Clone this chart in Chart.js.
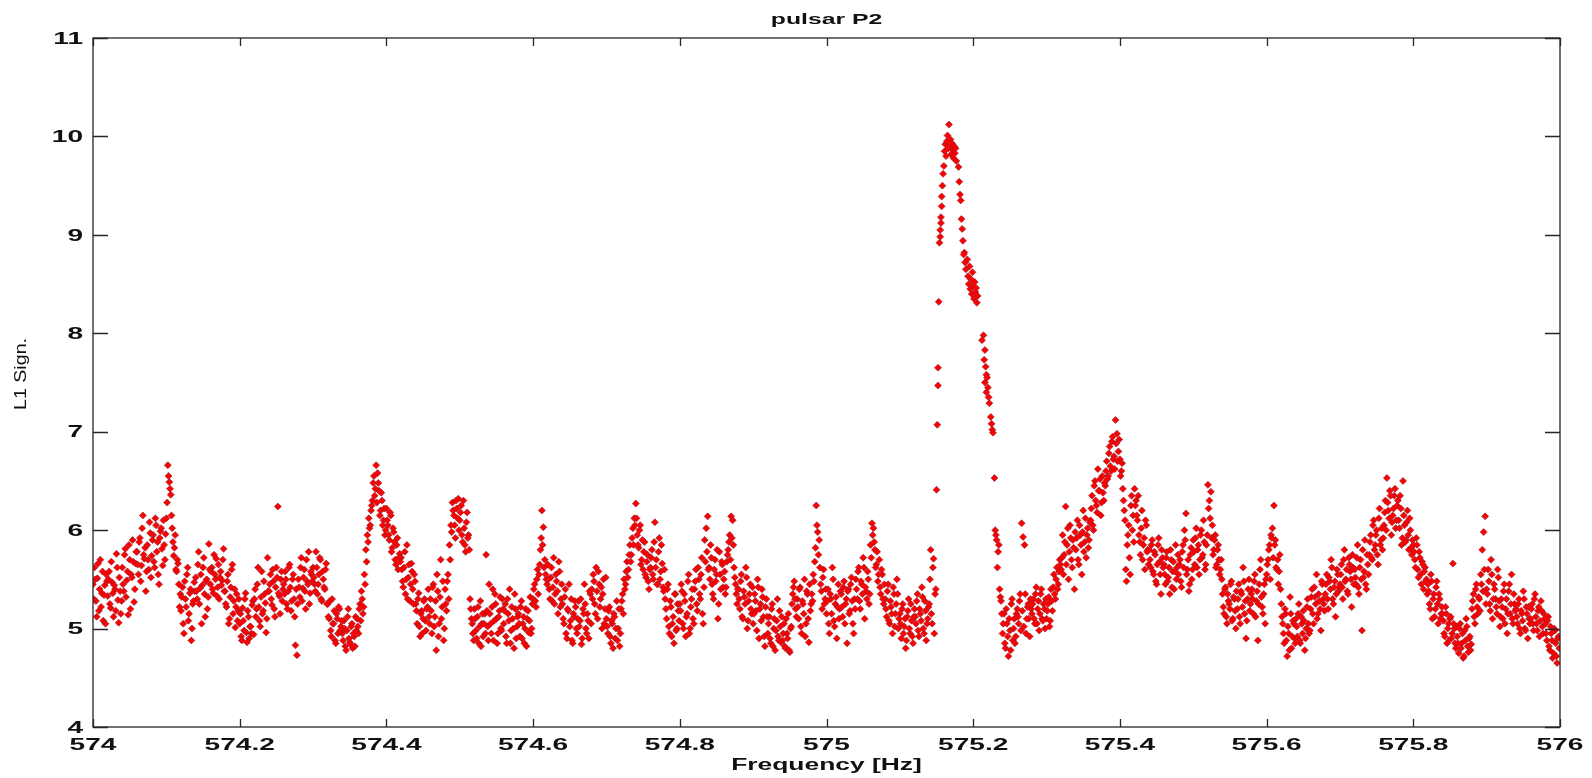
<!DOCTYPE html>
<html>
<head>
<meta charset="utf-8">
<title>pulsar P2</title>
<script src="https://cdn.jsdelivr.net/npm/chart.js@4.4.1/dist/chart.umd.min.js"></script>
<style>
  html, body { margin:0; padding:0; background:#fff; }
  #wrap { width:1592px; height:778px; position:relative; }
</style>
</head>
<body>
<div id="wrap"><canvas id="chart"></canvas></div>
<script>
const xTicks = [574, 574.2, 574.4, 574.6, 574.8, 575, 575.2, 575.4, 575.6, 575.8, 576];
const xTickLabels = ["574","574.2","574.4","574.6","574.8","575","575.2","575.4","575.6","575.8","576"];
const yTicks = [4, 5, 6, 7, 8, 9, 10, 11];

// L1 significance on the frequency grid, two templates per 0.002 Hz step
// (the "b" lists sit 0.001 Hz after the plain ones)
const FREQ_STEP = 0.002;
const sig574_0 = [
  5.45,5.62,5.28,5.51,5.18,5.70,5.36,5.08,5.44,5.55,
  5.33,5.58,5.21,5.47,5.12,5.40,5.76,5.29,5.52,5.15,
  5.62,5.38,5.81,5.49,5.14,5.70,5.55,5.90,5.27,5.66,
  5.78,5.55,5.92,5.64,6.15,5.71,5.38,5.85,5.60,5.97,
  5.74,5.95,5.62,6.05,5.88,5.45,5.99,5.81,6.10,5.70,
  6.12,6.66,6.49,6.36,6.02,5.74,5.95,5.58,5.66,5.22,
  5.18,5.42,4.95,5.30,5.55,5.08,5.36,4.88,5.25,5.47,
  5.52,5.30,5.78,5.41,5.05,5.62,5.35,5.48,5.20,5.86,
  5.45,5.62,5.36,5.55,5.71,5.42,5.30,5.58,5.49,5.81,
  5.38,5.22,5.55,5.10,5.42,5.65,5.28,5.01,5.35,5.18
];
const sig574_0b = [
  5.30,5.50,5.12,5.66,5.40,5.22,5.58,5.34,5.05,5.48,
  5.50,5.25,5.68,5.36,5.44,5.18,5.62,5.06,5.38,5.28,
  5.45,5.75,5.32,5.58,5.85,5.20,5.52,5.68,5.40,5.78,
  5.65,5.88,5.48,6.02,5.75,5.82,5.58,5.70,6.08,5.52,
  5.90,5.68,6.12,5.78,5.55,5.92,6.02,5.64,5.85,5.96,
  6.28,6.55,6.42,6.15,5.88,5.82,5.60,5.70,5.45,5.35,
  5.32,5.05,5.48,5.22,5.62,5.15,5.40,5.00,5.28,5.38,
  5.38,5.65,5.25,5.55,5.44,5.72,5.12,5.50,5.32,5.60,
  5.58,5.40,5.75,5.50,5.33,5.65,5.52,5.44,5.70,5.38,
  5.25,5.48,5.05,5.32,5.60,5.15,5.40,5.22,5.08,5.30
];
const sig574_2 = [
  5.05,4.92,5.21,4.98,5.36,4.86,5.12,5.02,4.95,5.28,
  5.30,5.12,5.45,5.22,5.02,5.58,5.18,5.35,4.96,5.72,
  5.38,5.55,5.24,5.48,5.12,5.62,6.24,5.33,5.50,5.28,
  5.45,5.58,5.25,5.38,5.65,5.18,5.50,5.30,4.83,4.73,
  5.50,5.32,5.72,5.41,5.60,5.20,5.48,5.78,5.36,5.55,
  5.62,5.45,5.78,5.35,5.55,5.70,5.28,5.50,5.40,5.66,
  5.25,5.10,4.98,5.30,5.05,4.88,5.15,4.95,5.20,5.02,
  4.95,5.08,4.82,4.98,5.20,4.86,5.02,4.80,4.92,5.12,
  5.10,4.95,5.25,5.38,5.15,5.55,5.80,5.95,6.12,6.05,
  6.25,6.48,6.35,6.66,6.58,6.40,6.20,6.30,6.10,5.95
];
const sig574_2b = [
  5.15,4.88,5.08,5.30,4.96,5.18,4.90,5.02,5.24,4.94,
  5.40,5.20,5.62,5.08,5.32,5.15,5.48,5.26,5.10,5.38,
  5.45,5.30,5.60,5.20,5.42,5.52,5.36,5.15,5.58,5.40,
  5.35,5.50,5.20,5.62,5.42,5.28,5.55,5.12,5.40,5.25,
  5.42,5.62,5.28,5.52,5.38,5.70,5.45,5.25,5.58,5.48,
  5.52,5.38,5.62,5.45,5.72,5.30,5.58,5.42,5.60,5.25,
  5.12,5.28,4.92,5.05,5.18,4.85,5.10,5.22,4.98,5.08,
  4.88,5.00,4.78,5.12,4.90,4.84,5.05,4.95,4.82,4.98,
  5.02,5.20,5.08,5.30,5.22,5.45,5.68,5.88,6.02,6.20,
  6.30,6.55,6.42,6.28,6.48,6.15,6.38,6.05,6.22,6.00
];
const sig574_4 = [
  6.22,6.05,5.90,6.15,5.82,5.98,5.70,5.85,5.60,5.76,
  5.72,5.48,5.62,5.35,5.85,5.52,5.28,5.66,5.40,5.55,
  5.25,5.05,5.36,4.92,5.18,5.10,5.30,4.98,5.22,5.12,
  5.30,4.95,5.45,5.12,4.78,5.38,5.05,5.70,5.22,4.88,
  5.40,5.18,5.55,5.85,6.05,6.28,6.15,5.92,6.22,6.32,
  6.10,6.25,5.88,6.02,5.78,6.18,5.95,5.30,5.10,4.95,
  5.20,4.98,5.12,4.85,5.28,5.05,4.92,5.15,5.75,5.02,
  5.45,5.05,5.22,4.88,5.35,5.10,4.95,5.18,5.00,5.30,
  5.05,5.25,4.85,5.15,5.40,4.98,5.10,4.80,5.20,5.02,
  5.15,4.92,5.28,5.05,4.85,5.20,5.10,4.96,5.32,5.00
];
const sig574_4b = [
  6.10,5.95,6.18,5.78,6.02,5.88,5.65,5.92,5.72,5.68,
  5.60,5.42,5.78,5.50,5.30,5.65,5.45,5.58,5.25,5.48,
  5.18,5.30,5.02,5.15,4.95,5.28,5.08,5.20,5.40,5.05,
  5.18,5.42,5.02,5.28,5.55,4.92,5.32,5.10,5.48,5.00,
  5.25,5.48,5.30,5.70,5.98,6.20,6.05,6.30,6.12,6.00,
  6.18,5.95,6.30,5.85,6.08,5.92,5.80,5.20,5.05,4.88,
  5.10,4.90,5.22,5.02,4.82,5.15,5.05,4.95,5.18,4.88,
  5.15,4.95,5.40,5.08,5.25,4.85,5.12,5.32,4.98,5.20,
  5.18,4.92,5.30,5.08,4.85,5.22,5.00,5.35,4.90,5.12,
  5.05,5.22,4.90,5.12,5.00,4.82,5.18,5.08,4.95,5.25
];
const sig574_6 = [
  5.30,5.45,5.22,5.60,5.55,5.80,6.20,6.03,5.70,5.50,
  5.65,5.40,5.52,5.28,5.72,5.35,5.48,5.15,5.58,5.30,
  5.25,5.05,5.40,4.90,5.18,5.02,5.30,4.85,5.12,5.22,
  4.95,5.28,5.08,4.84,5.20,5.45,5.00,5.15,4.90,5.35,
  5.40,5.55,5.25,5.62,5.10,5.45,5.30,5.00,5.50,5.20,
  5.10,4.95,5.22,4.85,5.05,5.15,4.90,5.28,5.00,4.82,
  5.20,5.35,5.50,5.45,5.68,5.60,5.85,5.75,6.02,6.12,
  6.27,5.95,5.82,6.05,5.70,5.60,5.88,5.52,5.75,5.40,
  5.62,5.80,5.50,6.08,5.70,5.45,5.92,5.58,5.66,5.38,
  5.30,5.10,5.45,4.95,5.22,5.05,4.85,5.35,5.00,5.18
];
const sig574_6b = [
  5.40,5.28,5.50,5.35,5.65,5.92,5.85,5.62,5.55,5.45,
  5.50,5.30,5.62,5.42,5.25,5.55,5.38,5.68,5.22,5.45,
  5.10,5.32,4.95,5.20,5.45,5.08,4.88,5.15,5.28,5.00,
  5.10,5.02,5.30,4.90,5.15,5.25,4.95,5.08,5.38,5.05,
  5.30,5.48,5.15,5.38,5.58,5.22,5.42,5.35,5.05,5.52,
  5.02,5.18,4.92,5.08,4.80,5.12,5.00,4.88,5.20,4.95,
  5.28,5.15,5.40,5.58,5.52,5.75,5.68,5.92,5.85,6.05,
  6.12,5.85,6.00,5.65,5.90,5.78,5.55,5.68,5.48,5.60,
  5.72,5.55,5.88,5.62,5.45,5.78,5.50,5.85,5.42,5.60,
  5.20,5.40,5.02,5.28,4.92,5.12,5.35,4.98,5.25,5.08
];
const sig574_8 = [
  5.25,5.45,5.05,5.35,4.92,5.15,5.55,5.00,5.30,5.10,
  5.40,5.60,5.18,5.50,5.30,5.72,5.05,5.90,6.02,6.14,
  5.62,5.85,5.45,5.30,5.70,5.55,5.10,5.78,5.40,5.65,
  5.50,5.35,5.68,5.80,5.95,6.14,6.10,5.62,5.45,5.25,
  5.40,5.20,5.55,5.10,5.32,5.62,5.00,5.28,5.45,5.15,
  5.05,5.35,5.18,5.50,4.90,5.25,5.40,5.12,4.82,5.30,
  4.95,5.12,4.85,5.25,5.00,4.78,5.08,4.92,5.18,4.86,
  4.88,5.05,4.80,4.95,5.15,4.76,5.02,5.35,5.48,5.20,
  5.30,5.10,5.42,4.95,5.25,5.50,5.05,5.35,4.86,5.18,
  5.35,5.55,5.68,6.25,5.98,5.90,5.45,5.20,5.60,5.30
];
const sig574_8b = [
  5.18,5.38,5.00,5.28,5.12,5.48,4.95,5.22,5.40,5.05,
  5.48,5.25,5.62,5.35,5.55,5.15,5.42,5.68,5.78,5.60,
  5.50,5.72,5.35,5.60,5.48,5.80,5.25,5.55,5.68,5.42,
  5.58,5.42,5.75,5.88,5.70,5.92,5.85,5.52,5.35,5.40,
  5.30,5.48,5.12,5.38,5.25,5.52,5.08,5.35,5.20,5.42,
  5.15,5.28,4.98,5.42,5.20,5.08,5.32,4.92,5.22,5.12,
  5.05,4.90,5.20,4.82,5.10,4.98,5.30,4.88,5.02,5.12,
  4.95,4.82,5.10,4.90,4.78,5.00,5.25,5.42,5.30,5.12,
  5.22,5.40,5.02,5.28,5.15,4.92,5.38,5.10,5.45,5.25,
  5.28,5.48,5.82,6.05,5.75,5.62,5.38,5.52,5.25,5.40
];
const sig575_0 = [
  5.15,5.40,4.95,5.30,5.62,5.08,5.25,4.90,5.45,5.20,
  5.35,5.12,5.48,5.25,4.85,5.40,5.18,5.52,5.05,5.30,
  5.50,5.30,5.62,5.20,5.45,5.72,5.10,5.38,5.58,5.25,
  5.85,6.07,6.02,5.80,5.65,5.48,5.70,5.35,5.55,5.25,
  5.30,5.12,5.45,5.05,5.22,4.95,5.35,5.15,5.50,5.00,
  5.15,4.90,5.25,5.02,4.80,5.12,5.30,4.95,5.08,4.85,
  5.20,5.05,5.35,4.92,5.15,5.42,5.00,5.28,4.88,5.10,
  5.25,5.80,5.05,5.71,5.35
];
const sig575_0b = [
  5.28,5.05,5.35,5.15,5.50,5.02,5.32,5.22,5.10,5.38,
  5.22,5.42,5.05,5.30,5.38,5.15,5.45,5.28,4.95,5.20,
  5.40,5.58,5.28,5.48,5.35,5.62,5.42,5.30,5.50,5.35,
  5.72,5.95,5.88,5.62,5.78,5.55,5.42,5.60,5.30,5.45,
  5.20,5.38,5.08,5.28,5.15,5.42,5.02,5.25,5.35,5.10,
  5.05,5.20,4.95,5.10,4.88,5.18,5.00,5.25,4.92,5.12,
  5.12,5.28,4.98,5.20,5.08,5.32,4.95,5.18,5.05,5.22,
  5.50,5.15,5.62,4.95,5.40
];
const sig575_23 = [
  6.00,5.90,5.78,5.40,5.28,
  4.95,5.15,4.80,5.05,4.72,4.98,5.25,4.88,5.10,4.92,
  5.20,5.05,5.35,6.07,5.93,5.85,4.95,5.22,5.10,5.30,
  5.15,5.30,5.05,5.42,5.20,4.98,5.35,5.10,5.25,5.00,
  5.10,5.25,5.02,5.40,5.18,5.55,5.30,5.62,5.45,5.70,
  5.60,5.95,5.75,6.24,5.85,5.50,6.05,5.70,5.90,5.40,
  5.80,6.10,5.65,5.95,5.55,6.20,5.88,5.72,6.02,5.90,
  6.10,6.35,6.00,6.50,6.25,6.62,6.40,6.15,6.55,6.30,
  6.45,6.70,6.55,6.85,6.60,6.95,6.75,7.12,6.98,6.80
];
const sig575_23b = [
  5.95,5.62,5.85,5.32,5.15,
  5.05,4.85,5.20,4.92,5.10,4.78,5.30,5.00,4.85,5.15,
  5.12,5.28,4.98,5.18,5.02,5.35,5.10,5.25,4.92,5.20,
  5.25,5.10,5.35,5.05,5.28,5.15,5.40,5.08,5.20,5.30,
  5.18,5.32,5.08,5.28,5.42,5.35,5.50,5.40,5.58,5.65,
  5.72,5.55,5.88,5.65,6.02,5.78,5.92,5.62,5.82,5.98,
  5.92,5.70,6.05,5.85,5.98,5.78,6.12,5.95,5.82,6.08,
  6.22,6.05,6.45,6.30,6.18,6.40,6.52,6.28,6.38,6.48,
  6.60,6.52,6.78,6.65,6.90,6.72,6.62,6.88,6.70,6.92
];
const sig575_4 = [
  6.72,6.60,6.42,6.20,5.60,5.85,6.05,5.55,6.35,6.15,
  6.42,6.30,6.10,5.95,5.75,6.20,5.85,5.60,6.05,5.80,
  5.80,5.62,5.90,5.55,5.75,5.45,5.85,5.68,5.35,5.72,
  5.65,5.45,5.78,5.52,5.35,5.70,5.58,5.40,5.85,5.62,
  5.55,5.70,5.42,5.85,6.00,6.17,5.60,5.38,5.75,5.50,
  5.90,5.65,6.02,5.80,5.55,5.95,5.72,6.10,5.60,5.85,
  6.46,6.30,6.39,6.05,5.80,5.95,5.65,5.85,5.55,5.70,
  5.35,5.15,5.42,5.05,5.28,5.20,5.48,5.10,5.30,5.00,
  5.20,5.45,5.05,5.35,5.62,5.15,4.90,5.30,5.50,5.25,
  5.40,5.15,5.55,5.28,4.88,5.45,5.70,5.22,5.35,5.05
];
const sig575_4b = [
  6.55,6.68,6.30,6.10,5.48,5.95,5.72,6.25,6.00,5.88,
  6.25,6.15,6.35,5.88,6.02,5.70,5.92,6.10,5.78,5.65,
  5.70,5.85,5.58,5.78,5.48,5.65,5.92,5.55,5.80,5.62,
  5.55,5.72,5.48,5.62,5.80,5.42,5.68,5.58,5.50,5.75,
  5.65,5.48,5.78,5.62,5.90,5.55,5.70,5.45,5.82,5.60,
  5.78,5.92,5.62,5.85,5.70,6.00,5.75,5.88,5.65,5.95,
  6.22,6.12,5.92,5.75,5.90,5.62,5.80,5.70,5.60,5.50,
  5.22,5.40,5.12,5.35,5.25,5.45,5.08,5.32,5.18,5.38,
  5.30,5.12,5.38,5.22,5.48,5.28,5.08,5.40,5.18,5.35,
  5.30,5.48,5.12,5.38,5.25,5.60,5.32,5.15,5.45,5.50
];
const sig575_6 = [
  5.55,5.70,5.85,5.95,6.02,6.25,5.90,5.60,5.45,5.75,
  5.25,5.05,4.85,5.15,4.72,4.95,5.32,4.80,5.08,4.90,
  5.10,4.92,5.25,4.85,5.05,5.18,4.78,5.00,5.30,4.95,
  5.20,5.40,5.05,5.32,5.55,5.15,5.28,4.98,5.45,5.25,
  5.35,5.55,5.20,5.48,5.70,5.30,5.42,5.12,5.60,5.38,
  5.45,5.65,5.30,5.80,5.50,5.38,5.72,5.58,5.22,5.62,
  5.60,5.45,5.85,5.35,5.70,4.98,5.52,5.90,5.40,5.65,
  5.75,5.95,5.70,6.10,5.85,6.00,5.65,6.22,5.90,5.80,
  6.05,6.30,6.53,6.20,6.40,5.95,6.15,6.35,6.02,6.25,
  6.10,6.35,5.85,6.50,6.05,5.90,6.20,5.80,6.00,5.75
];
const sig575_6b = [
  5.65,5.80,5.50,5.92,5.72,5.85,5.62,5.70,5.58,5.40,
  5.12,4.95,5.20,4.88,5.02,4.78,5.15,4.92,5.05,4.85,
  5.02,5.15,4.88,5.12,4.95,5.08,4.90,5.22,5.05,4.98,
  5.32,5.15,5.42,5.25,5.10,5.35,5.20,5.48,5.30,5.18,
  5.45,5.30,5.52,5.40,5.62,5.25,5.48,5.35,5.55,5.42,
  5.55,5.42,5.70,5.48,5.60,5.35,5.65,5.50,5.75,5.45,
  5.52,5.72,5.42,5.62,5.50,5.80,5.58,5.45,5.75,5.55,
  5.88,5.72,6.05,5.80,5.95,5.75,6.12,5.85,6.02,5.92,
  6.18,6.00,6.28,6.12,6.35,6.08,6.22,6.42,6.10,6.30,
  6.02,6.22,5.92,6.15,5.88,6.08,5.95,6.12,5.82,5.90
];
const sig575_8 = [
  5.85,5.70,5.92,5.60,5.78,5.55,5.68,5.40,5.62,5.50,
  5.45,5.25,5.55,5.10,5.35,5.20,5.48,5.05,5.30,5.15,
  5.15,4.95,5.22,4.85,5.05,5.10,4.90,5.66,5.00,4.80,
  4.92,4.75,5.05,4.85,4.70,4.98,5.10,4.82,4.90,4.78,
  5.20,5.35,5.05,5.45,5.15,5.30,5.55,5.80,5.98,6.14,
  5.40,5.60,5.25,5.70,5.10,5.45,5.30,5.15,5.52,5.02,
  5.30,5.10,5.45,5.20,4.95,5.38,5.15,5.55,5.05,5.25,
  5.20,5.05,5.30,4.95,5.15,5.38,5.00,5.22,4.90,5.10,
  5.10,5.25,4.98,5.35,5.05,5.18,4.92,5.28,5.02,5.15,
  5.05,4.88,5.12,4.78,4.95,4.70,5.00,4.85,4.65,4.92
];
const sig575_8b = [
  5.78,5.62,5.85,5.52,5.72,5.45,5.65,5.58,5.48,5.35,
  5.38,5.20,5.48,5.30,5.12,5.42,5.25,5.35,5.10,5.22,
  5.08,4.92,5.15,5.00,4.88,5.12,4.95,5.05,4.85,5.02,
  4.85,5.00,4.80,4.95,4.72,4.88,5.02,4.76,4.92,4.84,
  5.28,5.12,5.40,5.22,5.32,5.18,5.45,5.38,5.60,5.25,
  5.35,5.48,5.18,5.55,5.30,5.40,5.22,5.60,5.28,5.12,
  5.22,5.38,5.05,5.30,5.15,5.45,5.25,5.10,5.35,5.18,
  5.12,5.25,5.00,5.18,5.08,5.30,4.98,5.15,5.22,5.05,
  5.20,5.05,5.30,5.12,4.98,5.22,5.08,5.18,4.95,5.10,
  4.95,5.08,4.82,5.02,4.88,4.75,4.98,4.72,4.90,4.80
];

// start frequency of each list
const blocks = [
  [574.0, sig574_0], [574.001, sig574_0b],
  [574.2, sig574_2], [574.201, sig574_2b],
  [574.4, sig574_4], [574.401, sig574_4b],
  [574.6, sig574_6], [574.601, sig574_6b],
  [574.8, sig574_8], [574.801, sig574_8b],
  [575.0, sig575_0], [575.001, sig575_0b],
  [575.23, sig575_23], [575.231, sig575_23b],
  [575.4, sig575_4], [575.401, sig575_4b],
  [575.6, sig575_6], [575.601, sig575_6b],
  [575.8, sig575_8], [575.801, sig575_8b]
];

// the line around 575.17 Hz, several templates per frequency
const peakFreq = [
  575.150,575.151,575.152,575.152,575.153,575.154,575.155,575.155,575.156,575.156,575.157,575.157,
  575.158,575.159,575.160,575.161,575.162,575.163,575.164,575.165,575.166,575.167,
  575.168,575.169,575.170,575.171,575.172,575.173,575.174,575.175,575.176,575.177,
  575.180,575.181,575.182,575.183,575.184,575.185,575.186,575.188,
  575.187,575.189,575.190,575.192,575.193,575.194,575.195,575.196,575.197,575.198,
  575.199,575.200,575.201,575.202,575.203,575.204,575.205,575.206,
  575.212,575.214,575.215,575.216,575.216,575.217,575.218,575.218,575.219,575.220,
  575.221,575.222,575.224,575.225,575.226,575.227,575.229
];
const peakSig = [
  6.41,7.07,7.47,7.65,8.32,8.92,8.98,9.05,9.12,9.18,9.29,9.39,
  9.50,9.62,9.70,9.85,9.92,9.80,9.95,10.01,9.88,10.12,
  9.90,9.97,9.82,9.93,9.86,9.78,9.90,9.83,9.88,9.75,
  9.69,9.54,9.41,9.35,9.16,9.06,8.94,8.82,
  8.80,8.72,8.65,8.75,8.58,8.50,8.68,8.45,8.55,8.40,
  8.62,8.48,8.35,8.52,8.42,8.46,8.31,8.38,
  7.93,7.98,7.73,7.83,7.50,7.66,7.58,7.40,7.55,7.45,
  7.35,7.29,7.15,7.08,7.02,6.99,6.53
];

const gridPoints = [];
blocks.forEach(([f0, vals]) => {
  vals.forEach((v, i) => gridPoints.push({ x: +(f0 + i * FREQ_STEP).toFixed(3), y: v }));
});
const peakPoints = peakFreq.map((f, i) => ({ x: f, y: peakSig[i] }));

// text in this figure is stretched sideways
const WIDE = 1.65;
function wideText(ctx, text, x, y, align, sx){
  ctx.save();
  ctx.translate(x, y);
  ctx.scale(sx, 1);
  ctx.textAlign = align;
  ctx.fillText(text, 0, 0);
  ctx.restore();
}

// box axes with inward ticks, labels and titles
const frame = {
  id: "frame",
  afterDatasetsDraw(chart){
    const { ctx, chartArea: a, scales: { x, y } } = chart;
    ctx.save();
    ctx.strokeStyle = "#262626";
    ctx.lineWidth = 1.3;
    ctx.strokeRect(a.left, a.top, a.right - a.left, a.bottom - a.top);
    ctx.beginPath();
    xTicks.forEach(v => {
      const px = Math.round(x.getPixelForValue(v)) + 0.5;
      ctx.moveTo(px, a.bottom); ctx.lineTo(px, a.bottom - 8);
      ctx.moveTo(px, a.top); ctx.lineTo(px, a.top + 8);
    });
    yTicks.forEach(v => {
      const py = Math.round(y.getPixelForValue(v)) + 0.5;
      ctx.moveTo(a.left, py); ctx.lineTo(a.left + 15, py);
      ctx.moveTo(a.right, py); ctx.lineTo(a.right - 15, py);
    });
    ctx.stroke();

    ctx.fillStyle = "#111";
    ctx.font = "bold 17px 'Liberation Sans', Arial, sans-serif";
    ctx.textBaseline = "alphabetic";
    xTicks.forEach((v, i) => wideText(ctx, xTickLabels[i], x.getPixelForValue(v), a.bottom + 23, "center", WIDE));
    ctx.textBaseline = "middle";
    yTicks.forEach(v => wideText(ctx, String(v), a.left - 10, y.getPixelForValue(v) + 1, "right", WIDE));

    ctx.textBaseline = "alphabetic";
    ctx.font = "bold 15px 'Liberation Sans', Arial, sans-serif";
    wideText(ctx, "pulsar P2", (a.left + a.right) / 2, 24, "center", WIDE);
    ctx.font = "bold 16px 'Liberation Sans', Arial, sans-serif";
    wideText(ctx, "Frequency [Hz]", (a.left + a.right) / 2, 770, "center", WIDE);

    // y title, rotated
    ctx.font = "17px 'Liberation Sans', Arial, sans-serif";
    const label = "L1 Sign.";
    const stretch = 72 / ctx.measureText(label).width;
    ctx.translate(21, 374);
    ctx.rotate(-Math.PI / 2);
    ctx.scale(stretch, 1);
    ctx.textAlign = "center";
    ctx.textBaseline = "middle";
    ctx.fillText(label, 0, 0);
    ctx.restore();
  }
};

const markerStyle = {
  pointStyle: "rectRot",
  pointRadius: 3.5,
  pointBackgroundColor: "#ff0000",
  pointBorderColor: "#8a2233",
  pointBorderWidth: 0.6,
  showLine: false
};

new Chart(document.querySelector("#chart"), {
  type: "scatter",
  data: {
    datasets: [
      { label: "L1", data: gridPoints, ...markerStyle },
      { label: "L1 line", data: peakPoints, ...markerStyle }
    ]
  },
  options: {
    responsive: true,
    maintainAspectRatio: false,
    animation: false,
    layout: { padding: { left: 93, top: 38, right: 32, bottom: 51 } },
    plugins: { legend: { display: false }, tooltip: { enabled: false }, title: { display: false } },
    scales: {
      x: { type: "linear", min: 574, max: 576, display: false },
      y: { type: "linear", min: 4, max: 11, display: false }
    }
  },
  plugins: [frame]
});
</script>
</body>
</html>
